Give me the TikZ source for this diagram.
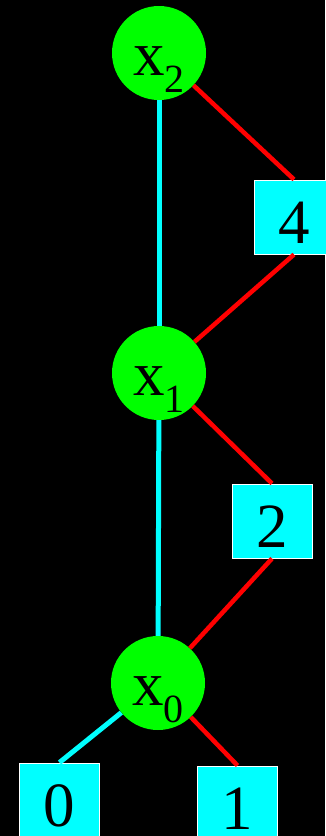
\documentclass[tikz,border=0pt]{standalone}
\usepackage{fontspec}
\setmainfont{Liberation Serif}
\definecolor{aqua}{RGB}{0,255,255}
\definecolor{lime}{RGB}{0,255,0}
\definecolor{hired}{RGB}{255,0,0}
\newcommand\subidx[1]{\raisebox{-17pt}{\fontsize{40}{40}\selectfont #1}}
\begin{document}
\begin{tikzpicture}[x=1pt, y=-1pt,
  var/.style={circle, fill=lime, minimum size=94pt, inner sep=0pt,
    text height=44pt, text depth=0pt, font=\fontsize{63}{63}\selectfont},
  leaf/.style={draw=white, line width=1pt, fill=aqua, minimum width=80pt,
    minimum height=74pt, inner sep=0pt, text height=53pt, text depth=0pt,
    font=\fontsize{63}{63}\selectfont},
  lo/.style={aqua, line width=5pt},
  hi/.style={hired, line width=4.5pt}]
\fill[black] (0,0) rectangle (325,836);
\useasboundingbox (0,0) rectangle (325,836);
% variables
\node[var] (x2) at (159,53) {x\subidx{2}};
\node[var] (x1) at (159,373) {x\subidx{1}};
\node[var] (x0) at (158,683) {x\subidx{0}};
% terminals
\node[leaf] (t4) at (294,217) {4};
\node[leaf] (t2) at (272,521) {2};
\node[leaf] (t0) at (59.5,800) {0};
\node[leaf] (t1) at (237.5,803) {1};
% low edges
\draw[lo] (x2) -- (x1);
\draw[lo] (x1) -- (x0);
\draw[lo] (x0) -- (t0.north);
% high edges
\draw[hi] (x2) -- (t4.north);
\draw[hi] (t4.south) -- (x1);
\draw[hi] (x1) -- (t2.north);
\draw[hi] (t2.south) -- (x0);
\draw[hi] (x0) -- (t1.north);
\end{tikzpicture}
\end{document}
